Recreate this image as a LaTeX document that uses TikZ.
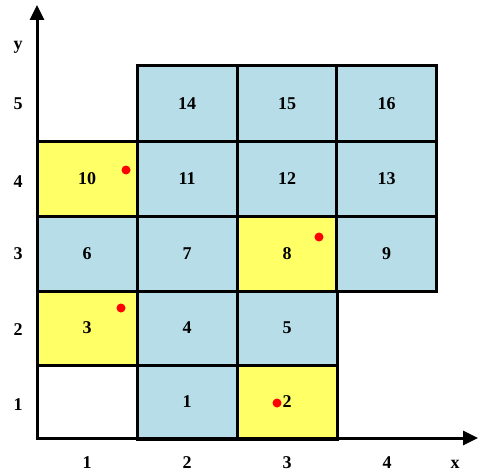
\documentclass[tikz,border=0pt]{standalone}
\usepackage{fontspec}
\setmainfont{Liberation Serif}
\usetikzlibrary{arrows.meta}
\definecolor{cellblue}{HTML}{B7DDE8}
\definecolor{cellyellow}{HTML}{FFFF66}
\definecolor{dotred}{HTML}{FF0000}
\begin{document}
\begin{tikzpicture}[x=1pt,y=-1pt,
  cell/.style={draw=black,line width=3pt,minimum width=100pt,minimum height=75pt,inner sep=0pt,
    font=\fontsize{18}{18}\selectfont\bfseries},
  bcell/.style={cell,fill=cellblue},
  ycell/.style={cell,fill=cellyellow},
  lab/.style={font=\fontsize{18}{18}\selectfont\bfseries,inner sep=0pt},
  axis/.style={line width=3pt,-{Triangle[length=15pt,width=14pt]}},
  rdot/.style={circle,fill=dotred,inner sep=0pt,minimum size=9pt}]
\useasboundingbox (0,0) rectangle (478,473);
% cells
\node[bcell]  (c1)  at (187,401.5) {1};
\node[ycell]  (c2)  at (287,401.5) {2};
\node[ycell]  (c3)  at (87,328)    {3};
\node[bcell]  (c4)  at (187,328)   {4};
\node[bcell]  (c5)  at (287,328)   {5};
\node[bcell]  (c6)  at (87,253.5)  {6};
\node[bcell]  (c7)  at (187,253.5) {7};
\node[ycell]  (c8)  at (287,253.5) {8};
\node[bcell]  (c9)  at (386.5,253.5) {9};
\node[ycell]  (c10) at (87,178.5)  {10};
\node[bcell]  (c11) at (187,178.5) {11};
\node[bcell]  (c12) at (287,178.5) {12};
\node[bcell]  (c13) at (386.5,178.5) {13};
\node[bcell]  (c14) at (187,103.5) {14};
\node[bcell]  (c15) at (287,103.5) {15};
\node[bcell]  (c16) at (386.5,103.5) {16};
% red dots
\node[rdot] (d10) at (126,170) {};
\node[rdot] (d3)  at (121,308) {};
\node[rdot] (d8)  at (319,237) {};
\node[rdot] (d2)  at (277,403) {};
% axes
\coordinate (xs) at (35.5,438);
\coordinate (ys) at (37,439.5);
\coordinate (xe) at (478,438);
\coordinate (ye) at (37,5);
\draw[axis] (xs) -- (xe);
\draw[axis] (ys) -- (ye);
% axis labels
\node[lab] (ly) at (18,47) {y};
\node[lab] (lx) at (455,464) {x};
\node[lab] (y5) at (18,104) {5};
\node[lab] (y4) at (18,182) {4};
\node[lab] (y3) at (18,254) {3};
\node[lab] (y2) at (18,330) {2};
\node[lab] (y1) at (18,405) {1};
\node[lab] (x1) at (87,463)  {1};
\node[lab] (x2) at (187,463) {2};
\node[lab] (x3) at (287,463) {3};
\node[lab] (x4) at (387,463) {4};
\end{tikzpicture}
\end{document}
